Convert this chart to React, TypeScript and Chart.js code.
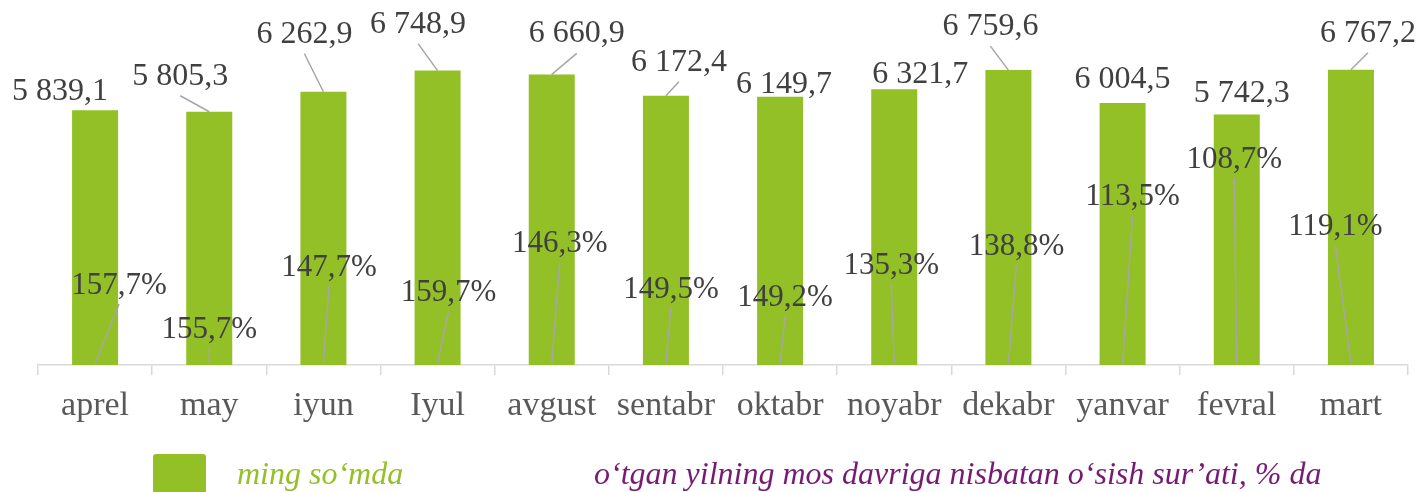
import React, { useEffect, useRef } from "react";
import { Chart, registerables } from "chart.js";

Chart.register(...registerables);

const categories = ["aprel", "may", "iyun", "Iyul", "avgust", "sentabr", "oktabr", "noyabr", "dekabr", "yanvar", "fevral", "mart"];
const amounts = [5839.1, 5805.3, 6262.9, 6748.9, 6660.9, 6172.4, 6149.7, 6321.7, 6759.6, 6004.5, 5742.3, 6767.2];
const growthPct = [157.7, 155.7, 147.7, 159.7, 146.3, 149.5, 149.2, 135.3, 138.8, 113.5, 108.7, 119.1];

const legendAmount = "ming so\u2018mda";
const legendGrowth = "o\u2018tgan yilning mos davriga nisbatan o\u2018sish sur\u2019ati, % da";

// label placement (layout only): [dx, dy, hasLeader] relative to bar top centre
const valueLabelPlacement: [number, number, boolean][] = [
  [-35, -10, false], [-29, -27, true], [-19, -49, true], [-19.5, -38, true],
  [25, -32, true], [13, -25, true], [4, -4, false], [26, -6, false],
  [-18, -35, true], [0, -15, false], [5, -12, false], [17, -28, true],
];
// [dx, dy] relative to bar centre at the baseline
const pctLabelPlacement: [number, number][] = [
  [24, -71], [0, -27], [5.5, -89], [11, -64], [8, -113], [5, -67],
  [5, -59], [-3, -91], [8, -110], [10, -160], [-2.5, -197], [-15.5, -130],
];

const GREEN = "#92C026";
const PURPLE = "#761A74";
const TEXT = "#404040";
const SERIF = "'Liberation Serif', 'Times New Roman', serif";

function fmtAmount(v: number): string {
  const [int, dec] = v.toFixed(1).split(".");
  const withSpaces = int.replace(/\B(?=(\d{3})+(?!\d))/g, " ");
  return withSpaces + "," + dec;
}
function fmtPct(v: number): string {
  return v.toFixed(1).replace(".", ",") + "%";
}

const leaderLabelsPlugin = {
  id: "leaderLabels",
  afterDatasetsDraw(chart: any) {
    const ctx = chart.ctx as CanvasRenderingContext2D;
    const ys = chart.scales.y;
    const base = ys.getPixelForValue(0);
    const meta = chart.getDatasetMeta(0);
    ctx.save();
    ctx.textAlign = "center";
    ctx.textBaseline = "alphabetic";
    ctx.strokeStyle = "#A6A6A6";
    ctx.lineWidth = 1.5;
    meta.data.forEach((bar: any, i: number) => {
      const { x, y } = bar.getProps(["x", "y"], true);
      // value labels
      const [dx, dy, lead] = valueLabelPlacement[i];
      ctx.fillStyle = TEXT;
      ctx.font = `32px ${SERIF}`;
      ctx.fillText(fmtAmount(chart.data.datasets[0].data[i]), x + dx, y + dy);
      if (lead) {
        ctx.beginPath();
        ctx.moveTo(x + dx, y + dy + 11);
        ctx.lineTo(x, y);
        ctx.stroke();
      }
      // percent labels
      const [pdx, pdy] = pctLabelPlacement[i];
      ctx.font = `31px ${SERIF}`;
      ctx.fillText(fmtPct(chart.data.datasets[1].data[i]), x + pdx, base + pdy);
      ctx.beginPath();
      ctx.moveTo(x + pdx, base + pdy + 10);
      ctx.lineTo(x, base - 1);
      ctx.stroke();
    });
    ctx.restore();
  },
};

const customLegendPlugin = {
  id: "customLegend",
  afterDraw(chart: any) {
    const ctx = chart.ctx as CanvasRenderingContext2D;
    ctx.save();
    ctx.fillStyle = GREEN;
    ctx.beginPath();
    (ctx as any).roundRect ? (ctx as any).roundRect(153, 454, 53, 53, 3) : ctx.rect(153, 454, 53, 53);
    ctx.fill();
    ctx.font = `italic 32px ${SERIF}`;
    ctx.textAlign = "left";
    ctx.textBaseline = "alphabetic";
    ctx.fillStyle = GREEN;
    ctx.fillText(chart.data.datasets[0].label, 237, 484);
    ctx.fillStyle = PURPLE;
    ctx.fillText(chart.data.datasets[1].label, 594, 484);
    ctx.restore();
  },
};

export default function App() {
  const ref = useRef<HTMLCanvasElement | null>(null);
  useEffect(() => {
    if (!ref.current) return;
    const chart = new Chart(ref.current, {
      type: "bar",
      data: {
        labels: categories,
        datasets: [
          {
            type: "bar",
            label: legendAmount,
            data: amounts,
            backgroundColor: GREEN,
            borderWidth: 0,
            categoryPercentage: 1,
            barPercentage: 0.403,
            yAxisID: "y",
          },
          {
            type: "line",
            label: legendGrowth,
            data: growthPct,
            borderColor: PURPLE,
            backgroundColor: PURPLE,
            showLine: false,
            pointRadius: 0,
            yAxisID: "yPct",
          } as any,
        ],
      },
      options: {
        animation: false,
        responsive: false,
        devicePixelRatio: 1,
        layout: { padding: { left: 38, right: 12, top: 16, bottom: 0 } },
        plugins: { legend: { display: false }, tooltip: { enabled: false }, title: { display: false } },
        scales: {
          x: {
            offset: true,
            grid: {
              display: true,
              offset: true,
              drawOnChartArea: false,
              drawTicks: true,
              tickLength: 10,
              color: "#D9D9D9",
              lineWidth: 1.5,
            },
            border: { display: true, color: "#D9D9D9", width: 1.5 },
            ticks: {
              color: "#595959",
              font: { family: SERIF, size: 34 },
              padding: 11,
              maxRotation: 0,
              autoSkip: false,
            },
            afterFit: (s: any) => {
              s.height = 127;
            },
          },
          y: { display: false, min: 0, max: 8000 },
          yPct: { display: false, min: 0, max: 1000 },
        },
      },
      plugins: [leaderLabelsPlugin, customLegendPlugin],
    });
    return () => chart.destroy();
  }, []);
  return (
    <div style={{ position: "fixed", left: 0, top: 0, width: 1420, height: 492, overflow: "hidden", background: "#fff" }}>
      <canvas ref={ref} width={1420} height={492} style={{ display: "block", width: 1420, height: 492 }} />
    </div>
  );
}
